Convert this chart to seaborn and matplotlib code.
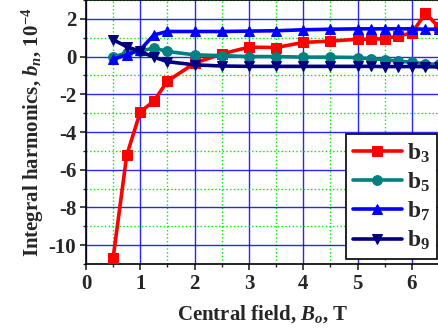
import numpy as np
import pandas as pd
import matplotlib
matplotlib.use("Agg")
import matplotlib.pyplot as plt
import seaborn as sns
from matplotlib.ticker import MultipleLocator

field = [0.5, 0.75, 1.0, 1.25, 1.5, 2.0, 2.5, 3.0, 3.5, 4.0, 4.5, 5.0, 5.25, 5.5, 5.75, 6.0, 6.25, 6.5]
b3 = [-10.67, -5.23, -2.93, -2.36, -1.3, -0.35, 0.14, 0.5, 0.48, 0.75, 0.82, 0.92, 0.92, 0.95, 1.1, 1.24, 2.3, 1.55]
b5 = [-0.03, 0.2, 0.3, 0.45, 0.27, 0.09, 0.05, 0.0, 0.0, -0.03, -0.03, -0.05, -0.12, -0.16, -0.25, -0.3, -0.38, -0.42]
b7 = [-0.14, 0.09, 0.36, 1.15, 1.33, 1.33, 1.33, 1.35, 1.37, 1.42, 1.45, 1.47, 1.47, 1.47, 1.47, 1.47, 1.45, 1.45]
b9 = [0.89, 0.53, 0.27, -0.03, -0.27, -0.44, -0.5, -0.52, -0.52, -0.52, -0.52, -0.52, -0.52, -0.53, -0.53, -0.53, -0.53, -0.55]

labels = ["b$_3$", "b$_5$", "b$_7$", "b$_9$"]
series = [b3, b5, b7, b9]
colors = ["#ff0000", "#008080", "#0000ff", "#000080"]
markers = ["s", "o", "^", "v"]

x_ticks = [0, 1, 2, 3, 4, 5, 6]
y_ticks = [-10, -8, -6, -4, -2, 0, 2]

sns.set_style("white")
plt.rcParams["font.family"] = ["Liberation Serif", "DejaVu Serif"]
plt.rcParams["font.weight"] = "bold"
plt.rcParams["axes.unicode_minus"] = False
plt.rcParams["mathtext.fontset"] = "custom"
plt.rcParams["mathtext.rm"] = "Liberation Serif:bold"
plt.rcParams["mathtext.it"] = "Liberation Serif:italic:bold"
plt.rcParams["mathtext.bf"] = "Liberation Serif:bold"

df = pd.concat([pd.DataFrame({"x": field, "y": s, "series": lab}) for s, lab in zip(series, labels)])

fig = plt.figure(figsize=(4.39, 3.29), dpi=100)
ax = fig.add_axes([86/439, 65/329, 353/439, 264/329])

ax.set_xlim(0, 6.5)
ax.set_ylim(-11, 3)
ax.xaxis.set_major_locator(MultipleLocator(1))
ax.xaxis.set_minor_locator(MultipleLocator(0.5))
ax.yaxis.set_major_locator(MultipleLocator(2))
ax.yaxis.set_minor_locator(MultipleLocator(1))
ax.grid(which="minor", color="#00ee00", linestyle=":", linewidth=1.0, zorder=0)
ax.grid(which="major", color="#0000ff", linestyle="-", linewidth=1.0, alpha=0.85, zorder=0)
ax.set_axisbelow(True)

for lab, c, m in zip(labels, colors, markers):
    sns.lineplot(data=df[df["series"] == lab], x="x", y="y", ax=ax, color=c, marker=m,
                 markersize=7, markeredgecolor=c, linewidth=2.6, label=lab, zorder=3, clip_on=True)

ax.set_xticks(x_ticks)
ax.set_yticks(y_ticks)
ax.set_xticklabels([str(v) for v in x_ticks])
ax.set_yticklabels([str(v) for v in y_ticks])
ax.tick_params(which="major", direction="out", length=4, width=1.2, labelsize=15, pad=3, bottom=True, left=True)
ax.tick_params(which="minor", direction="out", length=2.5, width=1.0, bottom=True, left=True)
for lbl in ax.get_xticklabels() + ax.get_yticklabels():
    lbl.set_fontweight("bold")

for sp in ax.spines.values():
    sp.set_color("black")
    sp.set_linewidth(1.2)

ax.set_xlabel("Central field, $B_o$, T", fontsize=15, fontweight="bold", labelpad=7)
ax.set_ylabel("Integral harmonics, $b_n$, 10$^{-4}$", fontsize=15, fontweight="bold", labelpad=2)

leg = ax.legend(loc="lower right", bbox_to_anchor=(0.995, 0.018), borderaxespad=0,
                fontsize=17, handlelength=2.1, frameon=True, fancybox=False,
                edgecolor="black", framealpha=1, labelspacing=0.25, borderpad=0.3,
                handletextpad=0.2)
leg.get_frame().set_linewidth(1.2)

fig.savefig("out.png", dpi=100)
